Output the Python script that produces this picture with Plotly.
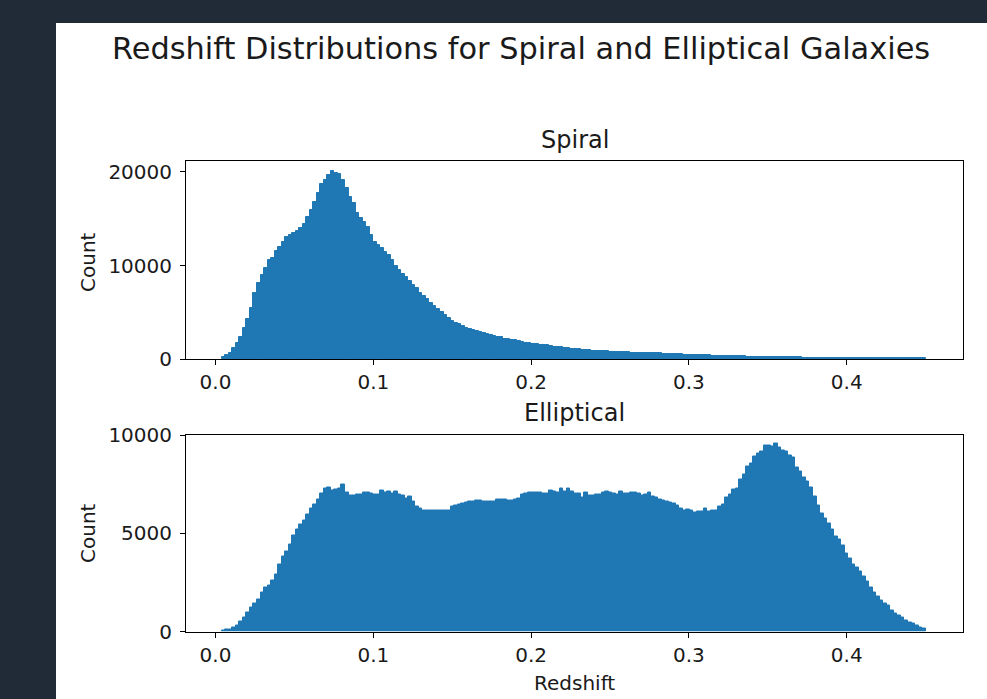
import numpy as np
import plotly.graph_objects as go

# ---------------- data ----------------
z_min = 0.004
z_max = 0.45
n_bins = 200

spiral_counts = [
    200, 460, 710, 1240, 1780, 2420, 3300, 4260, 5500, 7100,
    8100, 8950, 9700, 10590, 10760, 11580, 12000, 12540, 13070, 13250,
    13430, 13700, 13960, 14420, 15130, 15920, 16800, 17760, 18690, 19110,
    19650, 20100, 19900, 19750, 19110, 18220, 17340, 16620, 15560, 15030,
    14670, 14140, 13250, 12540, 12180, 11830, 11470, 11120, 10590, 9950,
    9520, 9090, 8810, 8380, 7920, 7570, 7100, 6750, 6390, 6040,
    5680, 5330, 5080, 4720, 4370, 4120, 3910, 3730, 3590, 3370,
    3200, 3130, 3020, 2880, 2810, 2700, 2630, 2490, 2420, 2340,
    2200, 2130, 2100, 2020, 1920, 1850, 1780, 1710, 1630, 1600,
    1560, 1530, 1490, 1420, 1350, 1310, 1280, 1240, 1170, 1140,
    1100, 1050, 1000, 980, 950, 920, 900, 880, 860, 850,
    830, 820, 800, 780, 760, 740, 720, 710, 700, 690,
    680, 670, 650, 640, 620, 600, 580, 560, 540, 530,
    520, 510, 500, 480, 460, 440, 430, 420, 410, 400,
    390, 380, 370, 360, 350, 340, 330, 320, 300, 290,
    270, 260, 250, 245, 240, 235, 230, 225, 220, 215,
    210, 205, 200, 198, 195, 192, 190, 187, 185, 182,
    180, 177, 175, 172, 170, 168, 165, 162, 160, 158,
    155, 152, 150, 148, 145, 142, 140, 138, 135, 132,
    130, 128, 125, 122, 120, 118, 115, 112, 110, 105,
]

elliptical_counts = [
    50, 80, 120, 180, 300, 500, 700, 950, 1200, 1420,
    1650, 2000, 2240, 2330, 2600, 2900, 3400, 3800, 4050, 4450,
    4900, 5200, 5450, 5650, 5950, 6250, 6450, 6700, 7050, 7300,
    7350, 7200, 7220, 7280, 7480, 7100, 6900, 6940, 6950, 6980,
    7100, 7070, 7020, 6960, 6990, 7200, 7070, 7120, 7020, 7150,
    6980, 6900, 6750, 6850, 6600, 6350, 6250, 6150, 6140, 6140,
    6170, 6140, 6140, 6160, 6180, 6350, 6400, 6480, 6520, 6580,
    6600, 6620, 6650, 6650, 6640, 6600, 6600, 6620, 6730, 6720,
    6700, 6650, 6650, 6700, 6780, 6950, 7050, 7070, 7070, 7060,
    7070, 7020, 7030, 7190, 7150, 7070, 7290, 7150, 7290, 7150,
    7020, 7020, 6820, 7070, 6900, 6940, 6990, 6990, 7070, 7150,
    7100, 7020, 6950, 7150, 7020, 7020, 7070, 7070, 7020, 6900,
    6950, 7070, 6850, 6820, 6730, 6680, 6620, 6570, 6500, 6400,
    6250, 6140, 6230, 6150, 6060, 6110, 6110, 6280, 6090, 6140,
    6140, 6350, 6450, 6820, 6990, 7240, 7290, 7740, 8000, 8420,
    8540, 8920, 9040, 9140, 9480, 9480, 9420, 9550, 9350, 9240,
    9140, 8970, 8870, 8370, 8130, 7860, 7660, 7320, 6850, 6400,
    6010, 5770, 5500, 5170, 4830, 4660, 4380, 3990, 3700, 3420,
    3250, 3030, 2780, 2530, 2240, 1970, 1770, 1570, 1430, 1300,
    1090, 930, 790, 720, 560, 450, 390, 290, 220, 170,
]

x_tick_vals = [0.0, 0.1, 0.2, 0.3, 0.4]
x_tick_text = ["0.0", "0.1", "0.2", "0.3", "0.4"]
spiral_y_ticks = [0, 10000, 20000]
elliptical_y_ticks = [0, 5000, 10000]

title_text = "Redshift Distributions for Spiral and Elliptical Galaxies"
panel_titles = ["Spiral", "Elliptical"]
x_label = "Redshift"
y_label = "Count"

# ---------------- figure ----------------
W, H = 987, 699
edges = np.linspace(z_min, z_max, n_bins + 1)
centers = (edges[:-1] + edges[1:]) / 2
bw = edges[1] - edges[0]

BLUE = "#1f77b4"
DARK = "#212b38"
FONT = "DejaVu Sans"
TXT = "#1a1a1a"


def px_x(p):
    return p / W


def px_y(p):
    return 1 - p / H


fig = go.Figure()
fig.add_trace(go.Bar(x=centers, y=spiral_counts, width=bw,
                     marker=dict(color=BLUE, line=dict(width=1, color=BLUE)),
                     xaxis="x", yaxis="y", showlegend=False, hoverinfo="x+y"))
fig.add_trace(go.Bar(x=centers, y=elliptical_counts, width=bw,
                     marker=dict(color=BLUE, line=dict(width=1, color=BLUE)),
                     xaxis="x2", yaxis="y2", showlegend=False, hoverinfo="x+y"))

x_range = [-0.0187, 0.4737]
ax_common = dict(showline=True, linecolor="black", linewidth=1, mirror=True, ticks="outside",
                 ticklen=5, tickwidth=1, tickcolor="black", showgrid=False, zeroline=False,
                 automargin=False, tickfont=dict(family=FONT, size=20, color=TXT))

left, right = 186, 963
fig.update_layout(
    width=W, height=H,
    margin=dict(l=0, r=0, t=0, b=0, autoexpand=False),
    paper_bgcolor=DARK,
    plot_bgcolor="white",
    bargap=0,
    xaxis=dict(domain=[px_x(left), px_x(right)], anchor="y", range=x_range,
               tickvals=x_tick_vals, ticktext=x_tick_text, **ax_common),
    yaxis=dict(domain=[px_y(359.3), px_y(161)], anchor="x", range=[0, 21140],
               tickvals=spiral_y_ticks, tickformat="d", ticklabelstandoff=4, **ax_common),
    xaxis2=dict(domain=[px_x(left), px_x(right)], anchor="y2", range=x_range,
                tickvals=x_tick_vals, ticktext=x_tick_text, **ax_common),
    yaxis2=dict(domain=[px_y(631.5), px_y(434.5)], anchor="x2", range=[0, 10030],
                tickvals=elliptical_y_ticks, tickformat="d", ticklabelstandoff=4, **ax_common),
    shapes=[dict(type="rect", xref="paper", yref="paper", x0=px_x(56), x1=1.0, y0=0, y1=px_y(23),
                 fillcolor="white", line=dict(width=0), layer="below")],
    annotations=[
        dict(text=title_text, x=px_x(521), y=px_y(48), xref="paper", yref="paper", showarrow=False,
             xanchor="center", yanchor="middle", font=dict(family=FONT, size=30.4, color=TXT)),
        dict(text=panel_titles[0], x=px_x(574.5), y=px_y(140), xref="paper", yref="paper", showarrow=False,
             xanchor="center", yanchor="middle", font=dict(family=FONT, size=24, color=TXT)),
        dict(text=panel_titles[1], x=px_x(574.5), y=px_y(413), xref="paper", yref="paper", showarrow=False,
             xanchor="center", yanchor="middle", font=dict(family=FONT, size=24, color=TXT)),
        dict(text=y_label, x=px_x(88), y=px_y(262), xref="paper", yref="paper", showarrow=False,
             textangle=-90, xanchor="center", yanchor="middle", font=dict(family=FONT, size=20, color=TXT)),
        dict(text=y_label, x=px_x(88), y=px_y(533), xref="paper", yref="paper", showarrow=False,
             textangle=-90, xanchor="center", yanchor="middle", font=dict(family=FONT, size=20, color=TXT)),
        dict(text=x_label, x=px_x(574.5), y=px_y(683), xref="paper", yref="paper", showarrow=False,
             xanchor="center", yanchor="middle", font=dict(family=FONT, size=20, color=TXT)),
    ],
)

fig.write_html("out.html", config={"displayModeBar": False},
               post_script="document.body.style.margin='0';document.body.style.overflow='hidden';")
